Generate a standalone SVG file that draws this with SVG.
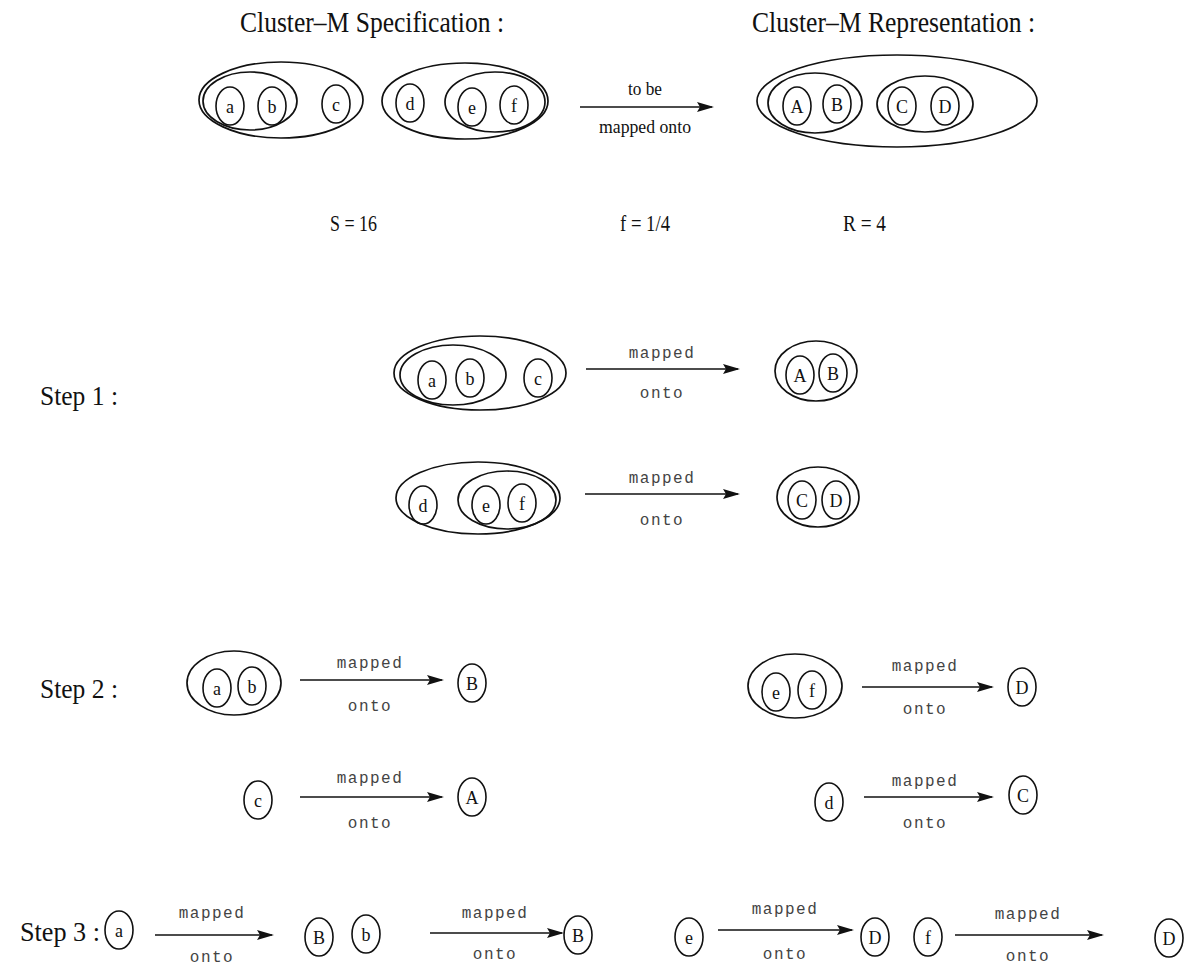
<svg xmlns="http://www.w3.org/2000/svg" width="1196" height="965" viewBox="0 0 1196 965">
  <style>
    .e { fill: none; stroke: #111; stroke-width: 1.7; }
    .c { fill: none; stroke: #111; stroke-width: 1.6; }
    .a { stroke: #111; stroke-width: 1.7; fill: none; marker-end: url(#head); }
    .t { font-family: "Liberation Serif", "Times New Roman", serif; fill: #111; }
    .lbl { font-family: "Liberation Serif", "Times New Roman", serif; font-size: 18px; fill: #111; text-anchor: middle; }
    .m { font-family: "Liberation Mono", "DejaVu Sans Mono", monospace; font-size: 16px; letter-spacing: 1.5px; fill: #444; text-anchor: middle; }
  </style>
  <defs>
    <marker id="head" markerUnits="userSpaceOnUse" markerWidth="17" markerHeight="10" refX="15" refY="5" orient="auto">
      <path d="M0,0 L17,5 L0,10 L3,5 z" fill="#111"/>
    </marker>
  </defs>
  <rect width="1196" height="965" fill="#fff"/>

  <!-- headings and parameters -->
  <g id="headings" class="t">
    <text x="240" y="32" font-size="29" textLength="264" lengthAdjust="spacingAndGlyphs">Cluster–M Specification :</text>
    <text x="752" y="32" font-size="29" textLength="283" lengthAdjust="spacingAndGlyphs">Cluster–M Representation :</text>
    <text x="330" y="231" font-size="23" textLength="47" lengthAdjust="spacingAndGlyphs">S = 16</text>
    <text x="620" y="231" font-size="23" textLength="50" lengthAdjust="spacingAndGlyphs">f = 1/4</text>
    <text x="843" y="231" font-size="23" textLength="43" lengthAdjust="spacingAndGlyphs">R = 4</text>
    <text x="40" y="405" font-size="27" textLength="78" lengthAdjust="spacingAndGlyphs">Step 1 :</text>
    <text x="40" y="698" font-size="27" textLength="78" lengthAdjust="spacingAndGlyphs">Step 2 :</text>
    <text x="20" y="941" font-size="27" textLength="80" lengthAdjust="spacingAndGlyphs">Step 3 :</text>
  </g>

  <!-- specification: clusters {a,b},c and d,{e,f} -->
  <g id="spec-abc">
    <ellipse class="e" cx="281" cy="100" rx="82" ry="38"/>
    <ellipse class="e" cx="250" cy="101" rx="47" ry="29"/>
    <ellipse class="c" cx="230" cy="106" rx="14" ry="19"/><text class="lbl" x="230" y="113">a</text>
    <ellipse class="c" cx="272" cy="106" rx="14" ry="19"/><text class="lbl" x="272" y="113">b</text>
    <ellipse class="c" cx="336" cy="104" rx="14" ry="19"/><text class="lbl" x="336" y="111">c</text>
  </g>
  <g id="spec-def">
    <ellipse class="e" cx="465" cy="101" rx="83" ry="38"/>
    <ellipse class="e" cx="495" cy="102" rx="50" ry="30"/>
    <ellipse class="c" cx="410" cy="103" rx="14" ry="19"/><text class="lbl" x="410" y="110">d</text>
    <ellipse class="c" cx="472" cy="107" rx="14" ry="19"/><text class="lbl" x="472" y="114">e</text>
    <ellipse class="c" cx="514" cy="105" rx="14" ry="19"/><text class="lbl" x="514" y="112">f</text>
  </g>

  <!-- representation: {A,B},{C,D} -->
  <g id="rep-ABCD">
    <ellipse class="e" cx="897" cy="101" rx="140" ry="46"/>
    <ellipse class="e" cx="815" cy="103" rx="47" ry="30"/>
    <ellipse class="e" cx="925" cy="104" rx="48" ry="28"/>
    <ellipse class="c" cx="797" cy="106" rx="14" ry="19"/><text class="lbl" x="797" y="113">A</text>
    <ellipse class="c" cx="837" cy="104" rx="14" ry="19"/><text class="lbl" x="837" y="111">B</text>
    <ellipse class="c" cx="902" cy="106" rx="14" ry="19"/><text class="lbl" x="902" y="113">C</text>
    <ellipse class="c" cx="945" cy="106" rx="14" ry="19"/><text class="lbl" x="945" y="113">D</text>
  </g>

  <!-- step 1 -->
  <g id="s1-abc">
    <ellipse class="e" cx="480" cy="373" rx="86" ry="37"/>
    <ellipse class="e" cx="453" cy="375" rx="53" ry="30"/>
    <ellipse class="c" cx="432" cy="380" rx="14" ry="19"/><text class="lbl" x="432" y="387">a</text>
    <ellipse class="c" cx="470" cy="378" rx="14" ry="19"/><text class="lbl" x="470" y="385">b</text>
    <ellipse class="c" cx="538" cy="378" rx="14" ry="19"/><text class="lbl" x="538" y="385">c</text>
  </g>
  <g id="s1-AB">
    <ellipse class="e" cx="816" cy="371" rx="41" ry="30"/>
    <ellipse class="c" cx="800" cy="375" rx="14" ry="19"/><text class="lbl" x="800" y="382">A</text>
    <ellipse class="c" cx="833" cy="373" rx="14" ry="19"/><text class="lbl" x="833" y="380">B</text>
  </g>
  <g id="s1-def">
    <ellipse class="e" cx="478" cy="498" rx="82" ry="36"/>
    <ellipse class="e" cx="507" cy="500" rx="49" ry="29"/>
    <ellipse class="c" cx="423" cy="505" rx="14" ry="19"/><text class="lbl" x="423" y="512">d</text>
    <ellipse class="c" cx="486" cy="505" rx="14" ry="19"/><text class="lbl" x="486" y="512">e</text>
    <ellipse class="c" cx="522" cy="503" rx="14" ry="19"/><text class="lbl" x="522" y="510">f</text>
  </g>
  <g id="s1-CD">
    <ellipse class="e" cx="818" cy="497" rx="41" ry="30"/>
    <ellipse class="c" cx="802" cy="500" rx="14" ry="19"/><text class="lbl" x="802" y="507">C</text>
    <ellipse class="c" cx="836" cy="500" rx="14" ry="19"/><text class="lbl" x="836" y="507">D</text>
  </g>

  <!-- step 2 -->
  <g id="s2-ab">
    <ellipse class="e" cx="234" cy="683" rx="47" ry="32"/>
    <ellipse class="c" cx="217" cy="688" rx="14" ry="19"/><text class="lbl" x="217" y="695">a</text>
    <ellipse class="c" cx="252" cy="686" rx="14" ry="19"/><text class="lbl" x="252" y="693">b</text>
  </g>
  <g id="s2-B"><ellipse class="c" cx="472" cy="683" rx="14" ry="19"/><text class="lbl" x="472" y="690">B</text></g>
  <g id="s2-c"><ellipse class="c" cx="258" cy="800" rx="14" ry="19"/><text class="lbl" x="258" y="807">c</text></g>
  <g id="s2-A"><ellipse class="c" cx="472" cy="797" rx="14" ry="19"/><text class="lbl" x="472" y="804">A</text></g>
  <g id="s2-ef">
    <ellipse class="e" cx="795" cy="686" rx="47" ry="32"/>
    <ellipse class="c" cx="776" cy="692" rx="14" ry="19"/><text class="lbl" x="776" y="699">e</text>
    <ellipse class="c" cx="812" cy="690" rx="14" ry="19"/><text class="lbl" x="812" y="697">f</text>
  </g>
  <g id="s2-D"><ellipse class="c" cx="1022" cy="687" rx="14" ry="19"/><text class="lbl" x="1022" y="694">D</text></g>
  <g id="s2-d"><ellipse class="c" cx="829" cy="802" rx="14" ry="19"/><text class="lbl" x="829" y="809">d</text></g>
  <g id="s2-C"><ellipse class="c" cx="1023" cy="795" rx="14" ry="19"/><text class="lbl" x="1023" y="802">C</text></g>

  <!-- step 3 -->
  <g id="s3-a"><ellipse class="c" cx="119" cy="930" rx="14" ry="19"/><text class="lbl" x="119" y="937">a</text></g>
  <g id="s3-B1"><ellipse class="c" cx="319" cy="937" rx="14" ry="19"/><text class="lbl" x="319" y="944">B</text></g>
  <g id="s3-b"><ellipse class="c" cx="366" cy="934" rx="14" ry="19"/><text class="lbl" x="366" y="941">b</text></g>
  <g id="s3-B2"><ellipse class="c" cx="578" cy="935" rx="14" ry="19"/><text class="lbl" x="578" y="942">B</text></g>
  <g id="s3-e"><ellipse class="c" cx="689" cy="937" rx="14" ry="19"/><text class="lbl" x="689" y="944">e</text></g>
  <g id="s3-D1"><ellipse class="c" cx="875" cy="937" rx="14" ry="19"/><text class="lbl" x="875" y="944">D</text></g>
  <g id="s3-f"><ellipse class="c" cx="928" cy="937" rx="14" ry="19"/><text class="lbl" x="928" y="944">f</text></g>
  <g id="s3-D2"><ellipse class="c" cx="1169" cy="938" rx="14" ry="19"/><text class="lbl" x="1169" y="945">D</text></g>

  <!-- mapping arrows with their labels -->
  <g id="connectors">
    <line class="a" x1="580" y1="107" x2="712" y2="107"/>
    <text class="t" x="645" y="95" font-size="19" text-anchor="middle" textLength="34" lengthAdjust="spacingAndGlyphs">to be</text>
    <text class="t" x="645" y="133" font-size="19" text-anchor="middle" textLength="92" lengthAdjust="spacingAndGlyphs">mapped onto</text>

    <line class="a" x1="586" y1="369" x2="738" y2="369"/>
    <text class="m" x="662" y="358">mapped</text><text class="m" x="662" y="398">onto</text>
    <line class="a" x1="585" y1="494" x2="738" y2="494"/>
    <text class="m" x="662" y="483">mapped</text><text class="m" x="662" y="525">onto</text>

    <line class="a" x1="300" y1="680" x2="442" y2="680"/>
    <text class="m" x="370" y="668">mapped</text><text class="m" x="370" y="711">onto</text>
    <line class="a" x1="300" y1="797" x2="442" y2="797"/>
    <text class="m" x="370" y="783">mapped</text><text class="m" x="370" y="828">onto</text>
    <line class="a" x1="862" y1="687" x2="992" y2="687"/>
    <text class="m" x="925" y="671">mapped</text><text class="m" x="925" y="714">onto</text>
    <line class="a" x1="864" y1="797" x2="992" y2="797"/>
    <text class="m" x="925" y="786">mapped</text><text class="m" x="925" y="828">onto</text>

    <line class="a" x1="155" y1="935" x2="272" y2="935"/>
    <text class="m" x="212" y="918">mapped</text><text class="m" x="212" y="962">onto</text>
    <line class="a" x1="430" y1="933" x2="562" y2="933"/>
    <text class="m" x="495" y="918">mapped</text><text class="m" x="495" y="959">onto</text>
    <line class="a" x1="718" y1="930" x2="852" y2="930"/>
    <text class="m" x="785" y="914">mapped</text><text class="m" x="785" y="959">onto</text>
    <line class="a" x1="955" y1="935" x2="1102" y2="935"/>
    <text class="m" x="1028" y="919">mapped</text><text class="m" x="1028" y="961">onto</text>
  </g>
</svg>
